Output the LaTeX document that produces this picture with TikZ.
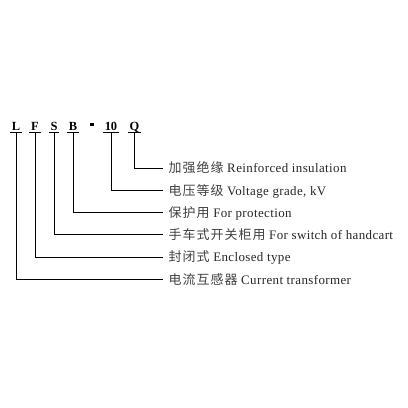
\documentclass[tikz,border=0pt]{standalone}
\usepackage{fontspec}
\setmainfont{Liberation Serif}[LetterSpace=3]
\newfontfamily\cjk{Noto Sans CJK SC}[LetterSpace=8,Color=404040]
\newfontfamily\codefont{Liberation Serif}[BoldFont={Liberation Serif Bold}]
\begin{document}
\begin{tikzpicture}[x=1bp,y=-1bp,
  code/.style={inner xsep=1.5bp,inner ysep=2bp,anchor=base,text depth=0pt,
    font=\codefont\fontsize{12.5}{14}\selectfont\bfseries},
  lbl/.style={anchor=west,inner xsep=5.5bp,inner ysep=0pt,text height=10.5bp,text depth=1.5bp,
    font=\fontsize{13}{15}\selectfont, text=black!85},
  conn/.style={line width=0.75bp,black},
  uline/.style={line width=0.8bp,black}]
\useasboundingbox (0,0) rectangle (408,408);
% code letters
\node[code] (L) at (16,130) {L};
\node[code] (F) at (35,130) {F};
\node[code] (S) at (54,130) {S};
\node[code] (B) at (73,130) {B};
\node[fill=black,inner sep=0pt,minimum width=4bp,minimum height=3bp] (dash) at (92,124.5) {};
\node[code] (ten) at (111,130) {10};
\node[code] (Q) at (134.5,130) {Q};
\foreach \n in {L,F,S,B,ten,Q}
  \draw[uline] (\n.south west) -- (\n.south east);
% labels
\node[lbl] (tQ) at (163,168) {{\cjk 加强绝缘} Reinforced insulation};
\node[lbl] (tT) at (163,190.5) {{\cjk 电压等级} Voltage grade, kV};
\node[lbl] (tB) at (163,212.5) {{\cjk 保护用} For protection};
\node[lbl] (tS) at (163,234.5) {{\cjk 手车式开关柜用} For switch of handcart};
\node[lbl] (tF) at (163,257) {{\cjk 封闭式} Enclosed type};
\node[lbl] (tL) at (163,279.5) {{\cjk 电流互感器} Current transformer};
% connectors
\draw[conn] (Q.south) |- (tQ.west);
\draw[conn] (ten.south) |- (tT.west);
\draw[conn] (B.south) |- (tB.west);
\draw[conn] (S.south) |- (tS.west);
\draw[conn] (F.south) |- (tF.west);
\draw[conn] (L.south) |- (tL.west);
\end{tikzpicture}
\end{document}
